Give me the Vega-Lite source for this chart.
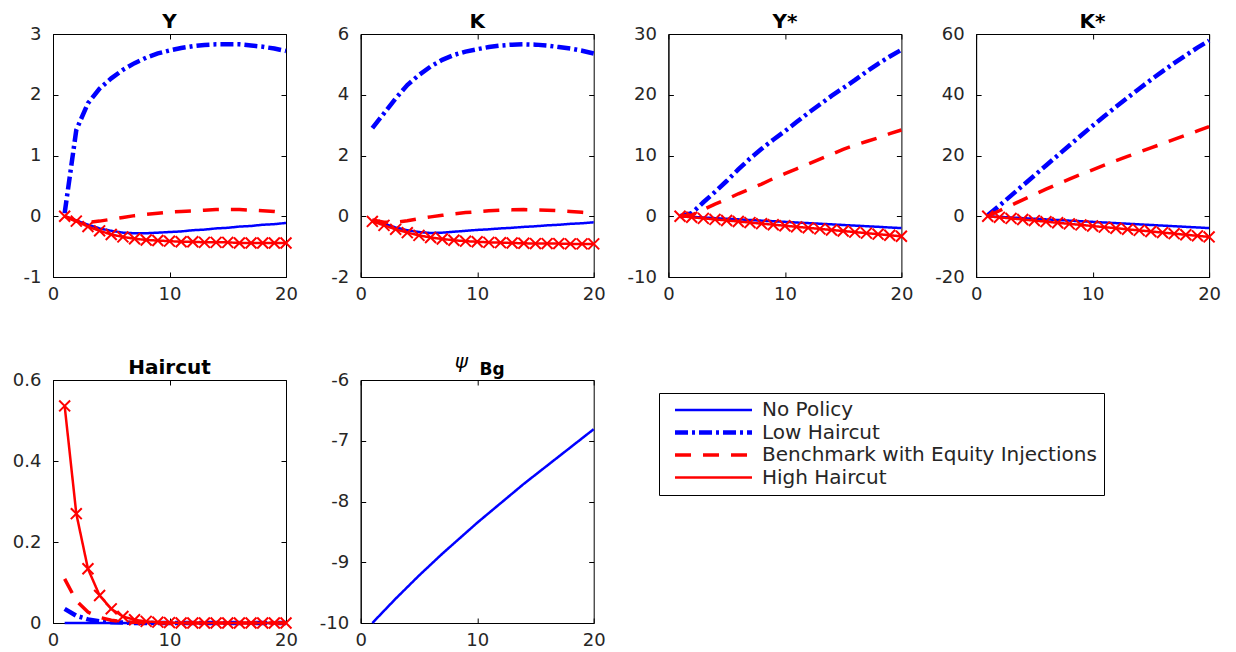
{
  "$schema": "https://vega.github.io/schema/vega-lite/v6.json",
  "padding": {"left": 11, "top": 11, "right": 5, "bottom": 5},
  "background": "white",
  "datasets": {
    "series": [
      {"s": "NP", "name": "No Policy"},
      {"s": "LH", "name": "Low Haircut"},
      {"s": "BM", "name": "Benchmark with Equity Injections"},
      {"s": "HH", "name": "High Haircut"}
    ],
    "irf": [
      {"p":"Y","s":"NP","t":1,"v":0},{"p":"Y","s":"NP","t":2,"v":-0.07},{"p":"Y","s":"NP","t":3,"v":-0.14},{"p":"Y","s":"NP","t":4,"v":-0.2},{"p":"Y","s":"NP","t":5,"v":-0.24},{"p":"Y","s":"NP","t":6,"v":-0.27},{"p":"Y","s":"NP","t":7,"v":-0.28},{"p":"Y","s":"NP","t":8,"v":-0.28},{"p":"Y","s":"NP","t":9,"v":-0.27},{"p":"Y","s":"NP","t":10,"v":-0.26},{"p":"Y","s":"NP","t":11,"v":-0.25},{"p":"Y","s":"NP","t":12,"v":-0.23},{"p":"Y","s":"NP","t":13,"v":-0.22},{"p":"Y","s":"NP","t":14,"v":-0.2},{"p":"Y","s":"NP","t":15,"v":-0.19},{"p":"Y","s":"NP","t":16,"v":-0.17},{"p":"Y","s":"NP","t":17,"v":-0.16},{"p":"Y","s":"NP","t":18,"v":-0.14},{"p":"Y","s":"NP","t":19,"v":-0.13},{"p":"Y","s":"NP","t":20,"v":-0.11},
      {"p":"Y","s":"LH","t":1,"v":0.05},{"p":"Y","s":"LH","t":2,"v":1.42},{"p":"Y","s":"LH","t":3,"v":1.86},{"p":"Y","s":"LH","t":4,"v":2.1},{"p":"Y","s":"LH","t":5,"v":2.27},{"p":"Y","s":"LH","t":6,"v":2.41},{"p":"Y","s":"LH","t":7,"v":2.52},{"p":"Y","s":"LH","t":8,"v":2.61},{"p":"Y","s":"LH","t":9,"v":2.68},{"p":"Y","s":"LH","t":10,"v":2.73},{"p":"Y","s":"LH","t":11,"v":2.77},{"p":"Y","s":"LH","t":12,"v":2.8},{"p":"Y","s":"LH","t":13,"v":2.82},{"p":"Y","s":"LH","t":14,"v":2.83},{"p":"Y","s":"LH","t":15,"v":2.83},{"p":"Y","s":"LH","t":16,"v":2.83},{"p":"Y","s":"LH","t":17,"v":2.81},{"p":"Y","s":"LH","t":18,"v":2.79},{"p":"Y","s":"LH","t":19,"v":2.76},{"p":"Y","s":"LH","t":20,"v":2.72},
      {"p":"Y","s":"BM","t":1,"v":0},{"p":"Y","s":"BM","t":2,"v":-0.08},{"p":"Y","s":"BM","t":3,"v":-0.1},{"p":"Y","s":"BM","t":4,"v":-0.08},{"p":"Y","s":"BM","t":5,"v":-0.05},{"p":"Y","s":"BM","t":6,"v":-0.02},{"p":"Y","s":"BM","t":7,"v":0.01},{"p":"Y","s":"BM","t":8,"v":0.03},{"p":"Y","s":"BM","t":9,"v":0.05},{"p":"Y","s":"BM","t":10,"v":0.07},{"p":"Y","s":"BM","t":11,"v":0.08},{"p":"Y","s":"BM","t":12,"v":0.09},{"p":"Y","s":"BM","t":13,"v":0.1},{"p":"Y","s":"BM","t":14,"v":0.11},{"p":"Y","s":"BM","t":15,"v":0.11},{"p":"Y","s":"BM","t":16,"v":0.11},{"p":"Y","s":"BM","t":17,"v":0.1},{"p":"Y","s":"BM","t":18,"v":0.09},{"p":"Y","s":"BM","t":19,"v":0.08},{"p":"Y","s":"BM","t":20,"v":0.06},
      {"p":"Y","s":"HH","t":1,"v":0},{"p":"Y","s":"HH","t":2,"v":-0.08},{"p":"Y","s":"HH","t":3,"v":-0.17},{"p":"Y","s":"HH","t":4,"v":-0.24},{"p":"Y","s":"HH","t":5,"v":-0.3},{"p":"Y","s":"HH","t":6,"v":-0.34},{"p":"Y","s":"HH","t":7,"v":-0.37},{"p":"Y","s":"HH","t":8,"v":-0.39},{"p":"Y","s":"HH","t":9,"v":-0.4},{"p":"Y","s":"HH","t":10,"v":-0.41},{"p":"Y","s":"HH","t":11,"v":-0.42},{"p":"Y","s":"HH","t":12,"v":-0.42},{"p":"Y","s":"HH","t":13,"v":-0.43},{"p":"Y","s":"HH","t":14,"v":-0.43},{"p":"Y","s":"HH","t":15,"v":-0.43},{"p":"Y","s":"HH","t":16,"v":-0.44},{"p":"Y","s":"HH","t":17,"v":-0.44},{"p":"Y","s":"HH","t":18,"v":-0.44},{"p":"Y","s":"HH","t":19,"v":-0.44},{"p":"Y","s":"HH","t":20,"v":-0.44},

      {"p":"K","s":"NP","t":1,"v":-0.12},{"p":"K","s":"NP","t":2,"v":-0.25},{"p":"K","s":"NP","t":3,"v":-0.37},{"p":"K","s":"NP","t":4,"v":-0.46},{"p":"K","s":"NP","t":5,"v":-0.52},{"p":"K","s":"NP","t":6,"v":-0.55},{"p":"K","s":"NP","t":7,"v":-0.54},{"p":"K","s":"NP","t":8,"v":-0.51},{"p":"K","s":"NP","t":9,"v":-0.48},{"p":"K","s":"NP","t":10,"v":-0.45},{"p":"K","s":"NP","t":11,"v":-0.43},{"p":"K","s":"NP","t":12,"v":-0.4},{"p":"K","s":"NP","t":13,"v":-0.38},{"p":"K","s":"NP","t":14,"v":-0.35},{"p":"K","s":"NP","t":15,"v":-0.33},{"p":"K","s":"NP","t":16,"v":-0.3},{"p":"K","s":"NP","t":17,"v":-0.28},{"p":"K","s":"NP","t":18,"v":-0.25},{"p":"K","s":"NP","t":19,"v":-0.23},{"p":"K","s":"NP","t":20,"v":-0.2},
      {"p":"K","s":"LH","t":1,"v":2.9},{"p":"K","s":"LH","t":2,"v":3.39},{"p":"K","s":"LH","t":3,"v":3.88},{"p":"K","s":"LH","t":4,"v":4.32},{"p":"K","s":"LH","t":5,"v":4.65},{"p":"K","s":"LH","t":6,"v":4.93},{"p":"K","s":"LH","t":7,"v":5.15},{"p":"K","s":"LH","t":8,"v":5.31},{"p":"K","s":"LH","t":9,"v":5.42},{"p":"K","s":"LH","t":10,"v":5.5},{"p":"K","s":"LH","t":11,"v":5.57},{"p":"K","s":"LH","t":12,"v":5.62},{"p":"K","s":"LH","t":13,"v":5.65},{"p":"K","s":"LH","t":14,"v":5.66},{"p":"K","s":"LH","t":15,"v":5.65},{"p":"K","s":"LH","t":16,"v":5.62},{"p":"K","s":"LH","t":17,"v":5.57},{"p":"K","s":"LH","t":18,"v":5.52},{"p":"K","s":"LH","t":19,"v":5.45},{"p":"K","s":"LH","t":20,"v":5.36},
      {"p":"K","s":"BM","t":1,"v":-0.12},{"p":"K","s":"BM","t":2,"v":-0.2},{"p":"K","s":"BM","t":3,"v":-0.2},{"p":"K","s":"BM","t":4,"v":-0.15},{"p":"K","s":"BM","t":5,"v":-0.08},{"p":"K","s":"BM","t":6,"v":-0.02},{"p":"K","s":"BM","t":7,"v":0.03},{"p":"K","s":"BM","t":8,"v":0.08},{"p":"K","s":"BM","t":9,"v":0.12},{"p":"K","s":"BM","t":10,"v":0.15},{"p":"K","s":"BM","t":11,"v":0.18},{"p":"K","s":"BM","t":12,"v":0.2},{"p":"K","s":"BM","t":13,"v":0.21},{"p":"K","s":"BM","t":14,"v":0.22},{"p":"K","s":"BM","t":15,"v":0.21},{"p":"K","s":"BM","t":16,"v":0.2},{"p":"K","s":"BM","t":17,"v":0.18},{"p":"K","s":"BM","t":18,"v":0.16},{"p":"K","s":"BM","t":19,"v":0.13},{"p":"K","s":"BM","t":20,"v":0.1},
      {"p":"K","s":"HH","t":1,"v":-0.17},{"p":"K","s":"HH","t":2,"v":-0.3},{"p":"K","s":"HH","t":3,"v":-0.43},{"p":"K","s":"HH","t":4,"v":-0.54},{"p":"K","s":"HH","t":5,"v":-0.63},{"p":"K","s":"HH","t":6,"v":-0.7},{"p":"K","s":"HH","t":7,"v":-0.75},{"p":"K","s":"HH","t":8,"v":-0.79},{"p":"K","s":"HH","t":9,"v":-0.82},{"p":"K","s":"HH","t":10,"v":-0.84},{"p":"K","s":"HH","t":11,"v":-0.86},{"p":"K","s":"HH","t":12,"v":-0.87},{"p":"K","s":"HH","t":13,"v":-0.88},{"p":"K","s":"HH","t":14,"v":-0.89},{"p":"K","s":"HH","t":15,"v":-0.9},{"p":"K","s":"HH","t":16,"v":-0.9},{"p":"K","s":"HH","t":17,"v":-0.9},{"p":"K","s":"HH","t":18,"v":-0.91},{"p":"K","s":"HH","t":19,"v":-0.91},{"p":"K","s":"HH","t":20,"v":-0.91},

      {"p":"Ys","s":"NP","t":1,"v":0},{"p":"Ys","s":"NP","t":2,"v":-0.1},{"p":"Ys","s":"NP","t":3,"v":-0.2},{"p":"Ys","s":"NP","t":4,"v":-0.31},{"p":"Ys","s":"NP","t":5,"v":-0.41},{"p":"Ys","s":"NP","t":6,"v":-0.51},{"p":"Ys","s":"NP","t":7,"v":-0.62},{"p":"Ys","s":"NP","t":8,"v":-0.72},{"p":"Ys","s":"NP","t":9,"v":-0.82},{"p":"Ys","s":"NP","t":10,"v":-0.92},{"p":"Ys","s":"NP","t":11,"v":-1.03},{"p":"Ys","s":"NP","t":12,"v":-1.13},{"p":"Ys","s":"NP","t":13,"v":-1.23},{"p":"Ys","s":"NP","t":14,"v":-1.33},{"p":"Ys","s":"NP","t":15,"v":-1.44},{"p":"Ys","s":"NP","t":16,"v":-1.54},{"p":"Ys","s":"NP","t":17,"v":-1.64},{"p":"Ys","s":"NP","t":18,"v":-1.74},{"p":"Ys","s":"NP","t":19,"v":-1.85},{"p":"Ys","s":"NP","t":20,"v":-1.95},
      {"p":"Ys","s":"LH","t":1,"v":0},{"p":"Ys","s":"LH","t":2,"v":0.5},{"p":"Ys","s":"LH","t":3,"v":2.3},{"p":"Ys","s":"LH","t":4,"v":4.0},{"p":"Ys","s":"LH","t":5,"v":5.8},{"p":"Ys","s":"LH","t":6,"v":7.7},{"p":"Ys","s":"LH","t":7,"v":9.5},{"p":"Ys","s":"LH","t":8,"v":11.1},{"p":"Ys","s":"LH","t":9,"v":12.6},{"p":"Ys","s":"LH","t":10,"v":14.0},{"p":"Ys","s":"LH","t":11,"v":15.5},{"p":"Ys","s":"LH","t":12,"v":17.0},{"p":"Ys","s":"LH","t":13,"v":18.4},{"p":"Ys","s":"LH","t":14,"v":19.8},{"p":"Ys","s":"LH","t":15,"v":21.1},{"p":"Ys","s":"LH","t":16,"v":22.4},{"p":"Ys","s":"LH","t":17,"v":23.8},{"p":"Ys","s":"LH","t":18,"v":25.1},{"p":"Ys","s":"LH","t":19,"v":26.3},{"p":"Ys","s":"LH","t":20,"v":27.4},
      {"p":"Ys","s":"BM","t":1,"v":0},{"p":"Ys","s":"BM","t":2,"v":0.2},{"p":"Ys","s":"BM","t":3,"v":1.1},{"p":"Ys","s":"BM","t":4,"v":2.0},{"p":"Ys","s":"BM","t":5,"v":2.8},{"p":"Ys","s":"BM","t":6,"v":3.7},{"p":"Ys","s":"BM","t":7,"v":4.5},{"p":"Ys","s":"BM","t":8,"v":5.3},{"p":"Ys","s":"BM","t":9,"v":6.2},{"p":"Ys","s":"BM","t":10,"v":7.0},{"p":"Ys","s":"BM","t":11,"v":7.8},{"p":"Ys","s":"BM","t":12,"v":8.6},{"p":"Ys","s":"BM","t":13,"v":9.4},{"p":"Ys","s":"BM","t":14,"v":10.2},{"p":"Ys","s":"BM","t":15,"v":11.0},{"p":"Ys","s":"BM","t":16,"v":11.7},{"p":"Ys","s":"BM","t":17,"v":12.3},{"p":"Ys","s":"BM","t":18,"v":12.9},{"p":"Ys","s":"BM","t":19,"v":13.6},{"p":"Ys","s":"BM","t":20,"v":14.2},
      {"p":"Ys","s":"HH","t":1,"v":0},{"p":"Ys","s":"HH","t":2,"v":-0.17},{"p":"Ys","s":"HH","t":3,"v":-0.35},{"p":"Ys","s":"HH","t":4,"v":-0.52},{"p":"Ys","s":"HH","t":5,"v":-0.69},{"p":"Ys","s":"HH","t":6,"v":-0.87},{"p":"Ys","s":"HH","t":7,"v":-1.04},{"p":"Ys","s":"HH","t":8,"v":-1.22},{"p":"Ys","s":"HH","t":9,"v":-1.39},{"p":"Ys","s":"HH","t":10,"v":-1.56},{"p":"Ys","s":"HH","t":11,"v":-1.74},{"p":"Ys","s":"HH","t":12,"v":-1.91},{"p":"Ys","s":"HH","t":13,"v":-2.08},{"p":"Ys","s":"HH","t":14,"v":-2.26},{"p":"Ys","s":"HH","t":15,"v":-2.43},{"p":"Ys","s":"HH","t":16,"v":-2.61},{"p":"Ys","s":"HH","t":17,"v":-2.78},{"p":"Ys","s":"HH","t":18,"v":-2.95},{"p":"Ys","s":"HH","t":19,"v":-3.13},{"p":"Ys","s":"HH","t":20,"v":-3.3},

      {"p":"Ks","s":"NP","t":1,"v":0},{"p":"Ks","s":"NP","t":2,"v":-0.21},{"p":"Ks","s":"NP","t":3,"v":-0.41},{"p":"Ks","s":"NP","t":4,"v":-0.62},{"p":"Ks","s":"NP","t":5,"v":-0.82},{"p":"Ks","s":"NP","t":6,"v":-1.03},{"p":"Ks","s":"NP","t":7,"v":-1.23},{"p":"Ks","s":"NP","t":8,"v":-1.44},{"p":"Ks","s":"NP","t":9,"v":-1.64},{"p":"Ks","s":"NP","t":10,"v":-1.85},{"p":"Ks","s":"NP","t":11,"v":-2.05},{"p":"Ks","s":"NP","t":12,"v":-2.26},{"p":"Ks","s":"NP","t":13,"v":-2.46},{"p":"Ks","s":"NP","t":14,"v":-2.67},{"p":"Ks","s":"NP","t":15,"v":-2.87},{"p":"Ks","s":"NP","t":16,"v":-3.08},{"p":"Ks","s":"NP","t":17,"v":-3.28},{"p":"Ks","s":"NP","t":18,"v":-3.49},{"p":"Ks","s":"NP","t":19,"v":-3.69},{"p":"Ks","s":"NP","t":20,"v":-3.9},
      {"p":"Ks","s":"LH","t":1,"v":0.3},{"p":"Ks","s":"LH","t":2,"v":3.5},{"p":"Ks","s":"LH","t":3,"v":6.8},{"p":"Ks","s":"LH","t":4,"v":10.1},{"p":"Ks","s":"LH","t":5,"v":13.4},{"p":"Ks","s":"LH","t":6,"v":16.7},{"p":"Ks","s":"LH","t":7,"v":20.0},{"p":"Ks","s":"LH","t":8,"v":23.3},{"p":"Ks","s":"LH","t":9,"v":26.6},{"p":"Ks","s":"LH","t":10,"v":29.8},{"p":"Ks","s":"LH","t":11,"v":32.9},{"p":"Ks","s":"LH","t":12,"v":36.0},{"p":"Ks","s":"LH","t":13,"v":39.0},{"p":"Ks","s":"LH","t":14,"v":42.0},{"p":"Ks","s":"LH","t":15,"v":44.9},{"p":"Ks","s":"LH","t":16,"v":47.7},{"p":"Ks","s":"LH","t":17,"v":50.4},{"p":"Ks","s":"LH","t":18,"v":53.0},{"p":"Ks","s":"LH","t":19,"v":55.5},{"p":"Ks","s":"LH","t":20,"v":57.8},
      {"p":"Ks","s":"BM","t":1,"v":0},{"p":"Ks","s":"BM","t":2,"v":1.8},{"p":"Ks","s":"BM","t":3,"v":3.6},{"p":"Ks","s":"BM","t":4,"v":5.4},{"p":"Ks","s":"BM","t":5,"v":7.2},{"p":"Ks","s":"BM","t":6,"v":8.9},{"p":"Ks","s":"BM","t":7,"v":10.6},{"p":"Ks","s":"BM","t":8,"v":12.2},{"p":"Ks","s":"BM","t":9,"v":13.8},{"p":"Ks","s":"BM","t":10,"v":15.3},{"p":"Ks","s":"BM","t":11,"v":16.8},{"p":"Ks","s":"BM","t":12,"v":18.3},{"p":"Ks","s":"BM","t":13,"v":19.7},{"p":"Ks","s":"BM","t":14,"v":21.1},{"p":"Ks","s":"BM","t":15,"v":22.5},{"p":"Ks","s":"BM","t":16,"v":23.9},{"p":"Ks","s":"BM","t":17,"v":25.3},{"p":"Ks","s":"BM","t":18,"v":26.7},{"p":"Ks","s":"BM","t":19,"v":28.1},{"p":"Ks","s":"BM","t":20,"v":29.5},
      {"p":"Ks","s":"HH","t":1,"v":0},{"p":"Ks","s":"HH","t":2,"v":-0.36},{"p":"Ks","s":"HH","t":3,"v":-0.72},{"p":"Ks","s":"HH","t":4,"v":-1.07},{"p":"Ks","s":"HH","t":5,"v":-1.43},{"p":"Ks","s":"HH","t":6,"v":-1.79},{"p":"Ks","s":"HH","t":7,"v":-2.15},{"p":"Ks","s":"HH","t":8,"v":-2.51},{"p":"Ks","s":"HH","t":9,"v":-2.86},{"p":"Ks","s":"HH","t":10,"v":-3.22},{"p":"Ks","s":"HH","t":11,"v":-3.58},{"p":"Ks","s":"HH","t":12,"v":-3.94},{"p":"Ks","s":"HH","t":13,"v":-4.3},{"p":"Ks","s":"HH","t":14,"v":-4.65},{"p":"Ks","s":"HH","t":15,"v":-5.01},{"p":"Ks","s":"HH","t":16,"v":-5.37},{"p":"Ks","s":"HH","t":17,"v":-5.73},{"p":"Ks","s":"HH","t":18,"v":-6.09},{"p":"Ks","s":"HH","t":19,"v":-6.44},{"p":"Ks","s":"HH","t":20,"v":-6.8},

      {"p":"H","s":"NP","t":1,"v":0},{"p":"H","s":"NP","t":2,"v":0},{"p":"H","s":"NP","t":3,"v":0},{"p":"H","s":"NP","t":4,"v":0},{"p":"H","s":"NP","t":5,"v":0},{"p":"H","s":"NP","t":6,"v":0},{"p":"H","s":"NP","t":7,"v":0},{"p":"H","s":"NP","t":8,"v":0},{"p":"H","s":"NP","t":9,"v":0},{"p":"H","s":"NP","t":10,"v":0},{"p":"H","s":"NP","t":11,"v":0},{"p":"H","s":"NP","t":12,"v":0},{"p":"H","s":"NP","t":13,"v":0},{"p":"H","s":"NP","t":14,"v":0},{"p":"H","s":"NP","t":15,"v":0},{"p":"H","s":"NP","t":16,"v":0},{"p":"H","s":"NP","t":17,"v":0},{"p":"H","s":"NP","t":18,"v":0},{"p":"H","s":"NP","t":19,"v":0},{"p":"H","s":"NP","t":20,"v":0},
      {"p":"H","s":"LH","t":1,"v":0.035},{"p":"H","s":"LH","t":2,"v":0.018},{"p":"H","s":"LH","t":3,"v":0.009},{"p":"H","s":"LH","t":4,"v":0.004},{"p":"H","s":"LH","t":5,"v":0.002},{"p":"H","s":"LH","t":6,"v":0.001},{"p":"H","s":"LH","t":7,"v":0},{"p":"H","s":"LH","t":8,"v":0},{"p":"H","s":"LH","t":9,"v":0},{"p":"H","s":"LH","t":10,"v":0},{"p":"H","s":"LH","t":11,"v":0},{"p":"H","s":"LH","t":12,"v":0},{"p":"H","s":"LH","t":13,"v":0},{"p":"H","s":"LH","t":14,"v":0},{"p":"H","s":"LH","t":15,"v":0},{"p":"H","s":"LH","t":16,"v":0},{"p":"H","s":"LH","t":17,"v":0},{"p":"H","s":"LH","t":18,"v":0},{"p":"H","s":"LH","t":19,"v":0},{"p":"H","s":"LH","t":20,"v":0},
      {"p":"H","s":"BM","t":1,"v":0.109},{"p":"H","s":"BM","t":2,"v":0.055},{"p":"H","s":"BM","t":3,"v":0.027},{"p":"H","s":"BM","t":4,"v":0.014},{"p":"H","s":"BM","t":5,"v":0.007},{"p":"H","s":"BM","t":6,"v":0.003},{"p":"H","s":"BM","t":7,"v":0.002},{"p":"H","s":"BM","t":8,"v":0.001},{"p":"H","s":"BM","t":9,"v":0},{"p":"H","s":"BM","t":10,"v":0},{"p":"H","s":"BM","t":11,"v":0},{"p":"H","s":"BM","t":12,"v":0},{"p":"H","s":"BM","t":13,"v":0},{"p":"H","s":"BM","t":14,"v":0},{"p":"H","s":"BM","t":15,"v":0},{"p":"H","s":"BM","t":16,"v":0},{"p":"H","s":"BM","t":17,"v":0},{"p":"H","s":"BM","t":18,"v":0},{"p":"H","s":"BM","t":19,"v":0},{"p":"H","s":"BM","t":20,"v":0},
      {"p":"H","s":"HH","t":1,"v":0.536},{"p":"H","s":"HH","t":2,"v":0.27},{"p":"H","s":"HH","t":3,"v":0.134},{"p":"H","s":"HH","t":4,"v":0.068},{"p":"H","s":"HH","t":5,"v":0.035},{"p":"H","s":"HH","t":6,"v":0.016},{"p":"H","s":"HH","t":7,"v":0.008},{"p":"H","s":"HH","t":8,"v":0.004},{"p":"H","s":"HH","t":9,"v":0.002},{"p":"H","s":"HH","t":10,"v":0.001},{"p":"H","s":"HH","t":11,"v":0},{"p":"H","s":"HH","t":12,"v":0},{"p":"H","s":"HH","t":13,"v":0},{"p":"H","s":"HH","t":14,"v":0},{"p":"H","s":"HH","t":15,"v":0},{"p":"H","s":"HH","t":16,"v":0},{"p":"H","s":"HH","t":17,"v":0},{"p":"H","s":"HH","t":18,"v":0},{"p":"H","s":"HH","t":19,"v":0},{"p":"H","s":"HH","t":20,"v":0},

      {"p":"Psi","s":"NP","t":1,"v":-10.0},{"p":"Psi","s":"NP","t":2,"v":-9.8},{"p":"Psi","s":"NP","t":3,"v":-9.6},{"p":"Psi","s":"NP","t":4,"v":-9.41},{"p":"Psi","s":"NP","t":5,"v":-9.22},{"p":"Psi","s":"NP","t":6,"v":-9.04},{"p":"Psi","s":"NP","t":7,"v":-8.86},{"p":"Psi","s":"NP","t":8,"v":-8.69},{"p":"Psi","s":"NP","t":9,"v":-8.52},{"p":"Psi","s":"NP","t":10,"v":-8.35},{"p":"Psi","s":"NP","t":11,"v":-8.19},{"p":"Psi","s":"NP","t":12,"v":-8.03},{"p":"Psi","s":"NP","t":13,"v":-7.87},{"p":"Psi","s":"NP","t":14,"v":-7.71},{"p":"Psi","s":"NP","t":15,"v":-7.56},{"p":"Psi","s":"NP","t":16,"v":-7.41},{"p":"Psi","s":"NP","t":17,"v":-7.26},{"p":"Psi","s":"NP","t":18,"v":-7.11},{"p":"Psi","s":"NP","t":19,"v":-6.96},{"p":"Psi","s":"NP","t":20,"v":-6.81}
    ]
  },
  "data": {"name": "irf"},
  "columns": 4,
  "spacing": {"row": 103, "column": 74.7},
  "bounds": "flush",
  "concat": [
    {
      "width": 233, "height": 243, "title": "Y",
      "transform": [{"filter": "datum.p === 'Y'"}, {"lookup": "s", "from": {"data": {"name": "series"}, "key": "s", "fields": ["name"]}}],
      "resolve": {"axis": {"x": "independent", "y": "independent"}},
      "layer": [
        {"mark": {"type": "line"}, "encoding": {
          "x": {"field": "t", "type": "quantitative", "scale": {"domain": [0, 20], "nice": false}, "axis": {"values": [0, 10, 20], "title": null}},
          "y": {"field": "v", "type": "quantitative", "scale": {"domain": [-1, 3], "nice": false, "zero": false}, "axis": {"values": [-1, 0, 1, 2, 3], "title": null}},
          "color": {"field": "name", "type": "nominal", "scale": {"domain": ["No Policy", "Low Haircut", "Benchmark with Equity Injections", "High Haircut"], "range": ["#0000ff", "#0000ff", "#ff0000", "#ff0000"]}, "title": null},
          "strokeDash": {"field": "name", "type": "nominal", "scale": {"domain": ["No Policy", "Low Haircut", "Benchmark with Equity Injections", "High Haircut"], "range": [[1, 0], [13, 4, 3, 4], [16, 12], [1, 0]]}, "title": null},
          "strokeWidth": {"field": "name", "type": "nominal", "scale": {"type": "ordinal", "domain": ["No Policy", "Low Haircut", "Benchmark with Equity Injections", "High Haircut"], "range": [2.5, 4.5, 3.5, 2.5]}, "title": null}
        }},
        {"transform": [{"filter": "datum.s === 'HH'"}], "mark": {"type": "point", "shape": "M-1,-1L1,1M-1,1L1,-1", "filled": false, "color": "#ff0000", "size": 120, "strokeWidth": 2, "opacity": 1},
         "encoding": {"x": {"field": "t", "type": "quantitative", "axis": null}, "y": {"field": "v", "type": "quantitative", "axis": null}}},
        {"mark": {"type": "point", "opacity": 0},
         "encoding": {"x": {"field": "t", "type": "quantitative", "axis": {"orient": "top", "values": [0, 10, 20], "labels": false, "domain": false, "title": null}},
                      "y": {"field": "v", "type": "quantitative", "axis": {"orient": "right", "values": [-1, 0, 1, 2, 3], "labels": false, "domain": false, "title": null}}}}
      ]
    },
    {
      "width": 233, "height": 243, "title": "K",
      "transform": [{"filter": "datum.p === 'K'"}, {"lookup": "s", "from": {"data": {"name": "series"}, "key": "s", "fields": ["name"]}}],
      "resolve": {"axis": {"x": "independent", "y": "independent"}},
      "layer": [
        {"mark": {"type": "line"}, "encoding": {
          "x": {"field": "t", "type": "quantitative", "scale": {"domain": [0, 20], "nice": false}, "axis": {"values": [0, 10, 20], "title": null}},
          "y": {"field": "v", "type": "quantitative", "scale": {"domain": [-2, 6], "nice": false, "zero": false}, "axis": {"values": [-2, 0, 2, 4, 6], "title": null}},
          "color": {"field": "name", "type": "nominal", "scale": {"domain": ["No Policy", "Low Haircut", "Benchmark with Equity Injections", "High Haircut"], "range": ["#0000ff", "#0000ff", "#ff0000", "#ff0000"]}, "title": null},
          "strokeDash": {"field": "name", "type": "nominal", "scale": {"domain": ["No Policy", "Low Haircut", "Benchmark with Equity Injections", "High Haircut"], "range": [[1, 0], [13, 4, 3, 4], [16, 12], [1, 0]]}, "title": null},
          "strokeWidth": {"field": "name", "type": "nominal", "scale": {"type": "ordinal", "domain": ["No Policy", "Low Haircut", "Benchmark with Equity Injections", "High Haircut"], "range": [2.5, 4.5, 3.5, 2.5]}, "title": null}
        }},
        {"transform": [{"filter": "datum.s === 'HH'"}], "mark": {"type": "point", "shape": "M-1,-1L1,1M-1,1L1,-1", "filled": false, "color": "#ff0000", "size": 120, "strokeWidth": 2, "opacity": 1},
         "encoding": {"x": {"field": "t", "type": "quantitative", "axis": null}, "y": {"field": "v", "type": "quantitative", "axis": null}}},
        {"mark": {"type": "point", "opacity": 0},
         "encoding": {"x": {"field": "t", "type": "quantitative", "axis": {"orient": "top", "values": [0, 10, 20], "labels": false, "domain": false, "title": null}},
                      "y": {"field": "v", "type": "quantitative", "axis": {"orient": "right", "values": [-2, 0, 2, 4, 6], "labels": false, "domain": false, "title": null}}}}
      ]
    },
    {
      "width": 233, "height": 243, "title": "Y*",
      "transform": [{"filter": "datum.p === 'Ys'"}, {"lookup": "s", "from": {"data": {"name": "series"}, "key": "s", "fields": ["name"]}}],
      "resolve": {"axis": {"x": "independent", "y": "independent"}},
      "layer": [
        {"mark": {"type": "line"}, "encoding": {
          "x": {"field": "t", "type": "quantitative", "scale": {"domain": [0, 20], "nice": false}, "axis": {"values": [0, 10, 20], "title": null}},
          "y": {"field": "v", "type": "quantitative", "scale": {"domain": [-10, 30], "nice": false, "zero": false}, "axis": {"values": [-10, 0, 10, 20, 30], "title": null}},
          "color": {"field": "name", "type": "nominal", "scale": {"domain": ["No Policy", "Low Haircut", "Benchmark with Equity Injections", "High Haircut"], "range": ["#0000ff", "#0000ff", "#ff0000", "#ff0000"]}, "title": null},
          "strokeDash": {"field": "name", "type": "nominal", "scale": {"domain": ["No Policy", "Low Haircut", "Benchmark with Equity Injections", "High Haircut"], "range": [[1, 0], [13, 4, 3, 4], [16, 12], [1, 0]]}, "title": null},
          "strokeWidth": {"field": "name", "type": "nominal", "scale": {"type": "ordinal", "domain": ["No Policy", "Low Haircut", "Benchmark with Equity Injections", "High Haircut"], "range": [2.5, 4.5, 3.5, 2.5]}, "title": null}
        }},
        {"transform": [{"filter": "datum.s === 'HH'"}], "mark": {"type": "point", "shape": "M-1,-1L1,1M-1,1L1,-1", "filled": false, "color": "#ff0000", "size": 120, "strokeWidth": 2, "opacity": 1},
         "encoding": {"x": {"field": "t", "type": "quantitative", "axis": null}, "y": {"field": "v", "type": "quantitative", "axis": null}}},
        {"mark": {"type": "point", "opacity": 0},
         "encoding": {"x": {"field": "t", "type": "quantitative", "axis": {"orient": "top", "values": [0, 10, 20], "labels": false, "domain": false, "title": null}},
                      "y": {"field": "v", "type": "quantitative", "axis": {"orient": "right", "values": [-10, 0, 10, 20, 30], "labels": false, "domain": false, "title": null}}}}
      ]
    },
    {
      "width": 233, "height": 243, "title": "K*",
      "transform": [{"filter": "datum.p === 'Ks'"}, {"lookup": "s", "from": {"data": {"name": "series"}, "key": "s", "fields": ["name"]}}],
      "resolve": {"axis": {"x": "independent", "y": "independent"}},
      "layer": [
        {"mark": {"type": "line"}, "encoding": {
          "x": {"field": "t", "type": "quantitative", "scale": {"domain": [0, 20], "nice": false}, "axis": {"values": [0, 10, 20], "title": null}},
          "y": {"field": "v", "type": "quantitative", "scale": {"domain": [-20, 60], "nice": false, "zero": false}, "axis": {"values": [-20, 0, 20, 40, 60], "title": null}},
          "color": {"field": "name", "type": "nominal", "scale": {"domain": ["No Policy", "Low Haircut", "Benchmark with Equity Injections", "High Haircut"], "range": ["#0000ff", "#0000ff", "#ff0000", "#ff0000"]}, "title": null},
          "strokeDash": {"field": "name", "type": "nominal", "scale": {"domain": ["No Policy", "Low Haircut", "Benchmark with Equity Injections", "High Haircut"], "range": [[1, 0], [13, 4, 3, 4], [16, 12], [1, 0]]}, "title": null},
          "strokeWidth": {"field": "name", "type": "nominal", "scale": {"type": "ordinal", "domain": ["No Policy", "Low Haircut", "Benchmark with Equity Injections", "High Haircut"], "range": [2.5, 4.5, 3.5, 2.5]}, "title": null}
        }},
        {"transform": [{"filter": "datum.s === 'HH'"}], "mark": {"type": "point", "shape": "M-1,-1L1,1M-1,1L1,-1", "filled": false, "color": "#ff0000", "size": 120, "strokeWidth": 2, "opacity": 1},
         "encoding": {"x": {"field": "t", "type": "quantitative", "axis": null}, "y": {"field": "v", "type": "quantitative", "axis": null}}},
        {"mark": {"type": "point", "opacity": 0},
         "encoding": {"x": {"field": "t", "type": "quantitative", "axis": {"orient": "top", "values": [0, 10, 20], "labels": false, "domain": false, "title": null}},
                      "y": {"field": "v", "type": "quantitative", "axis": {"orient": "right", "values": [-20, 0, 20, 40, 60], "labels": false, "domain": false, "title": null}}}}
      ]
    },
    {
      "width": 233, "height": 243, "title": "Haircut",
      "transform": [{"filter": "datum.p === 'H'"}, {"lookup": "s", "from": {"data": {"name": "series"}, "key": "s", "fields": ["name"]}}],
      "resolve": {"axis": {"x": "independent", "y": "independent"}},
      "layer": [
        {"mark": {"type": "line"}, "encoding": {
          "x": {"field": "t", "type": "quantitative", "scale": {"domain": [0, 20], "nice": false}, "axis": {"values": [0, 10, 20], "title": null}},
          "y": {"field": "v", "type": "quantitative", "scale": {"domain": [0, 0.6], "nice": false, "zero": false}, "axis": {"values": [0, 0.2, 0.4, 0.6], "title": null}},
          "color": {"field": "name", "type": "nominal", "scale": {"domain": ["No Policy", "Low Haircut", "Benchmark with Equity Injections", "High Haircut"], "range": ["#0000ff", "#0000ff", "#ff0000", "#ff0000"]}, "title": null},
          "strokeDash": {"field": "name", "type": "nominal", "scale": {"domain": ["No Policy", "Low Haircut", "Benchmark with Equity Injections", "High Haircut"], "range": [[1, 0], [13, 4, 3, 4], [16, 12], [1, 0]]}, "title": null},
          "strokeWidth": {"field": "name", "type": "nominal", "scale": {"type": "ordinal", "domain": ["No Policy", "Low Haircut", "Benchmark with Equity Injections", "High Haircut"], "range": [2.5, 4.5, 3.5, 2.5]}, "title": null}
        }},
        {"transform": [{"filter": "datum.s === 'HH'"}], "mark": {"type": "point", "shape": "M-1,-1L1,1M-1,1L1,-1", "filled": false, "color": "#ff0000", "size": 120, "strokeWidth": 2, "opacity": 1},
         "encoding": {"x": {"field": "t", "type": "quantitative", "axis": null}, "y": {"field": "v", "type": "quantitative", "axis": null}}},
        {"mark": {"type": "point", "opacity": 0},
         "encoding": {"x": {"field": "t", "type": "quantitative", "axis": {"orient": "top", "values": [0, 10, 20], "labels": false, "domain": false, "title": null}},
                      "y": {"field": "v", "type": "quantitative", "axis": {"orient": "right", "values": [0, 0.2, 0.4, 0.6], "labels": false, "domain": false, "title": null}}}}
      ]
    },
    {
      "width": 233, "height": 243,
      "title": {"text": "ψ\u00a0\u00a0\u00a0\u00a0\u00a0\u200b", "subtitle": "\u200b\u00a0\u00a0\u00a0\u00a0\u00a0Bg", "fontWeight": "normal", "fontStyle": "italic", "subtitleFontWeight": "bold", "subtitleFontStyle": "normal", "subtitleFontSize": 17, "subtitleFont": "DejaVu Sans", "subtitleColor": "black", "subtitlePadding": -10, "offset": -7},
      "transform": [{"filter": "datum.p === 'Psi'"}, {"lookup": "s", "from": {"data": {"name": "series"}, "key": "s", "fields": ["name"]}}],
      "resolve": {"axis": {"x": "independent", "y": "independent"}},
      "layer": [
        {"mark": {"type": "line"}, "encoding": {
          "x": {"field": "t", "type": "quantitative", "scale": {"domain": [0, 20], "nice": false}, "axis": {"values": [0, 10, 20], "title": null}},
          "y": {"field": "v", "type": "quantitative", "scale": {"domain": [-10, -6], "nice": false, "zero": false}, "axis": {"values": [-10, -9, -8, -7, -6], "title": null}},
          "color": {"field": "name", "type": "nominal", "scale": {"domain": ["No Policy", "Low Haircut", "Benchmark with Equity Injections", "High Haircut"], "range": ["#0000ff", "#0000ff", "#ff0000", "#ff0000"]}, "title": null},
          "strokeDash": {"field": "name", "type": "nominal", "scale": {"domain": ["No Policy", "Low Haircut", "Benchmark with Equity Injections", "High Haircut"], "range": [[1, 0], [13, 4, 3, 4], [16, 12], [1, 0]]}, "title": null},
          "strokeWidth": {"field": "name", "type": "nominal", "scale": {"type": "ordinal", "domain": ["No Policy", "Low Haircut", "Benchmark with Equity Injections", "High Haircut"], "range": [2.5, 4.5, 3.5, 2.5]}, "title": null}
        }},
        {"mark": {"type": "point", "opacity": 0},
         "encoding": {"x": {"field": "t", "type": "quantitative", "axis": {"orient": "top", "values": [0, 10, 20], "labels": false, "domain": false, "title": null}},
                      "y": {"field": "v", "type": "quantitative", "axis": {"orient": "right", "values": [-10, -9, -8, -7, -6], "labels": false, "domain": false, "title": null}}}}
      ]
    }
  ],
  "resolve": {"scale": {"x": "independent", "y": "independent", "color": "shared", "strokeDash": "shared", "strokeWidth": "shared"}},
  "config": {
    "font": "DejaVu Sans",
    "view": {"stroke": "black", "strokeWidth": 1},
    "axis": {"grid": false, "domainColor": "black", "domainWidth": 1, "tickColor": "black", "tickSize": -5, "tickWidth": 1, "labelFont": "DejaVu Sans", "labelFontSize": 18, "labelColor": "#262626", "labelPadding": 17, "labelFlush": false, "format": "~f"},
    "axisX": {"labelPadding": 13},
    "title": {"font": "DejaVu Sans", "fontSize": 20, "fontWeight": "bold", "color": "black", "offset": -7, "anchor": "middle"},
    "legend": {"orient": "none", "legendX": 606, "legendY": 359, "strokeColor": "black", "fillColor": "white", "padding": 7, "symbolSize": 237, "symbolType": "M-5,0L5,0", "symbolOffset": 37.5, "labelFont": "DejaVu Sans", "labelFontSize": 20, "labelColor": "#262626", "labelOffset": 38.5, "labelLimit": 500, "rowPadding": 2.5, "cornerRadius": 0},
    "locale": {"number": {"decimal": ".", "thousands": ",", "grouping": [3], "currency": ["$", ""], "minus": "-"}}
  }
}
